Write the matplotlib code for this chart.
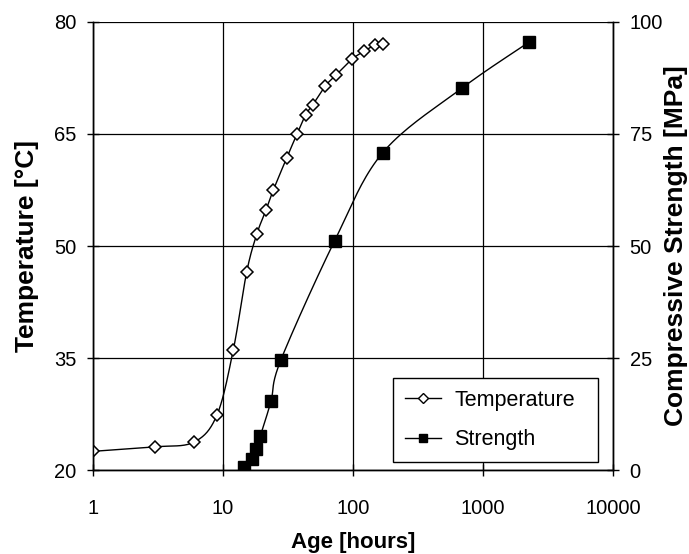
import numpy as np
import matplotlib
matplotlib.use("Agg")
import matplotlib.pyplot as plt
from matplotlib.lines import Line2D

plt.rcParams['font.family'] = ['Liberation Sans', 'DejaVu Sans']

temp_age = [1, 3, 6, 9, 12, 15.2, 18.2, 21.4, 24.4, 30.9, 37.1, 43.3, 49, 61, 74, 98, 122, 147, 171]
temp_val = [22.5, 23.1, 23.75, 27.4, 36.1, 46.5, 51.6, 54.8, 57.5, 61.8, 65.0, 67.6, 68.9, 71.4, 72.9, 75.0, 76.1, 76.9, 77.05]

str_age = [14.5, 16.6, 17.8, 19.4, 23.4, 27.9, 72.3, 169, 686, 2259]
str_val = [0.7, 2.4, 4.6, 7.7, 15.4, 24.6, 51.2, 70.8, 85.2, 95.5]

x_ticks = [1, 10, 100, 1000, 10000]
x_labels = ["1", "10", "100", "1000", "10000"]
t_ticks = [20, 35, 50, 65, 80]
s_ticks = [0, 25, 50, 75, 100]


def smooth(xs, ys, n=20):
    """Catmull-Rom curve through points in (log10 x, y) space for line drawing."""
    lx = np.log10(np.asarray(xs, float))
    y = np.asarray(ys, float)
    P = np.column_stack([lx, y])
    P = np.vstack([P[0], P, P[-1]])
    out = []
    for i in range(1, len(P) - 2):
        p0, p1, p2, p3 = P[i - 1], P[i], P[i + 1], P[i + 2]
        t = np.linspace(0, 1, n, endpoint=False)[:, None]
        seg = 0.5 * ((2 * p1) + (-p0 + p2) * t + (2 * p0 - 5 * p1 + 4 * p2 - p3) * t ** 2
                     + (-p0 + 3 * p1 - 3 * p2 + p3) * t ** 3)
        out.append(seg)
    out.append(P[-2][None, :])
    c = np.vstack(out)
    return 10 ** c[:, 0], c[:, 1]


fig = plt.figure(figsize=(6.89, 5.54), dpi=100)
ax = fig.add_axes([0.135, 0.1516, 0.7547, 0.8087])
ax2 = ax.twinx()

ax.set_xscale('log')
ax.set_xlim(1, 10000)
ax.set_ylim(20, 80)
ax2.set_ylim(0, 100)

ax.set_xticks(x_ticks)
ax.set_xticklabels(x_labels)
ax.xaxis.set_minor_locator(matplotlib.ticker.NullLocator())
ax.set_yticks(t_ticks)
ax2.set_yticks(s_ticks)

ax.grid(True, which='major', color='black', linewidth=0.9)
ax.set_axisbelow(True)

for a in (ax, ax2):
    for sp in a.spines.values():
        sp.set_linewidth(1.0)
    a.tick_params(direction='inout', length=8, width=1, labelsize=14.5, colors='black', pad=8)
ax.spines['top'].set_visible(False)
ax2.spines['top'].set_visible(False)
ax.tick_params(axis='x', pad=17)

sx, sy = smooth(temp_age, temp_val)
ax.plot(sx, sy, color='black', linewidth=1.0, zorder=3)
ax.plot(temp_age, temp_val, linestyle='none', marker='D', markersize=6.5,
        markerfacecolor='white', markeredgecolor='black', markeredgewidth=1.1, zorder=4)

gx, gy = smooth(str_age, str_val)
ax2.plot(gx, gy, color='black', linewidth=1.0, zorder=3)
ax2.plot(str_age, str_val, linestyle='none', marker='s', markersize=8,
         markerfacecolor='black', markeredgecolor='black', zorder=4)

ax.set_xlabel('Age [hours]', fontsize=16, fontweight='bold', labelpad=10)
ax.set_ylabel('Temperature [°C]', fontsize=19, fontweight='bold', labelpad=11)
ax2.set_ylabel('Compressive Strength [MPa]', fontsize=19, fontweight='bold', labelpad=1)

h1 = Line2D([], [], color='black', linewidth=1.0, marker='D', markersize=5,
            markerfacecolor='white', markeredgecolor='black')
h2 = Line2D([], [], color='black', linewidth=1.0, marker='s', markersize=6,
            markerfacecolor='black', markeredgecolor='black')
leg = ax2.legend([h1, h2], ['Temperature', 'Strength'], loc='lower left',
                 bbox_to_anchor=(393 / 689, 1 - 462 / 554, 205 / 689, 84 / 554),
                 bbox_transform=fig.transFigure, mode='expand', fontsize=15.5,
                 frameon=True, fancybox=False, edgecolor='black', framealpha=1,
                 handlelength=1.7, handletextpad=0.6, labelspacing=0.85,
                 borderpad=0.55, borderaxespad=0)
leg.get_frame().set_linewidth(1.0)

fig.savefig('out.png', dpi=100)
